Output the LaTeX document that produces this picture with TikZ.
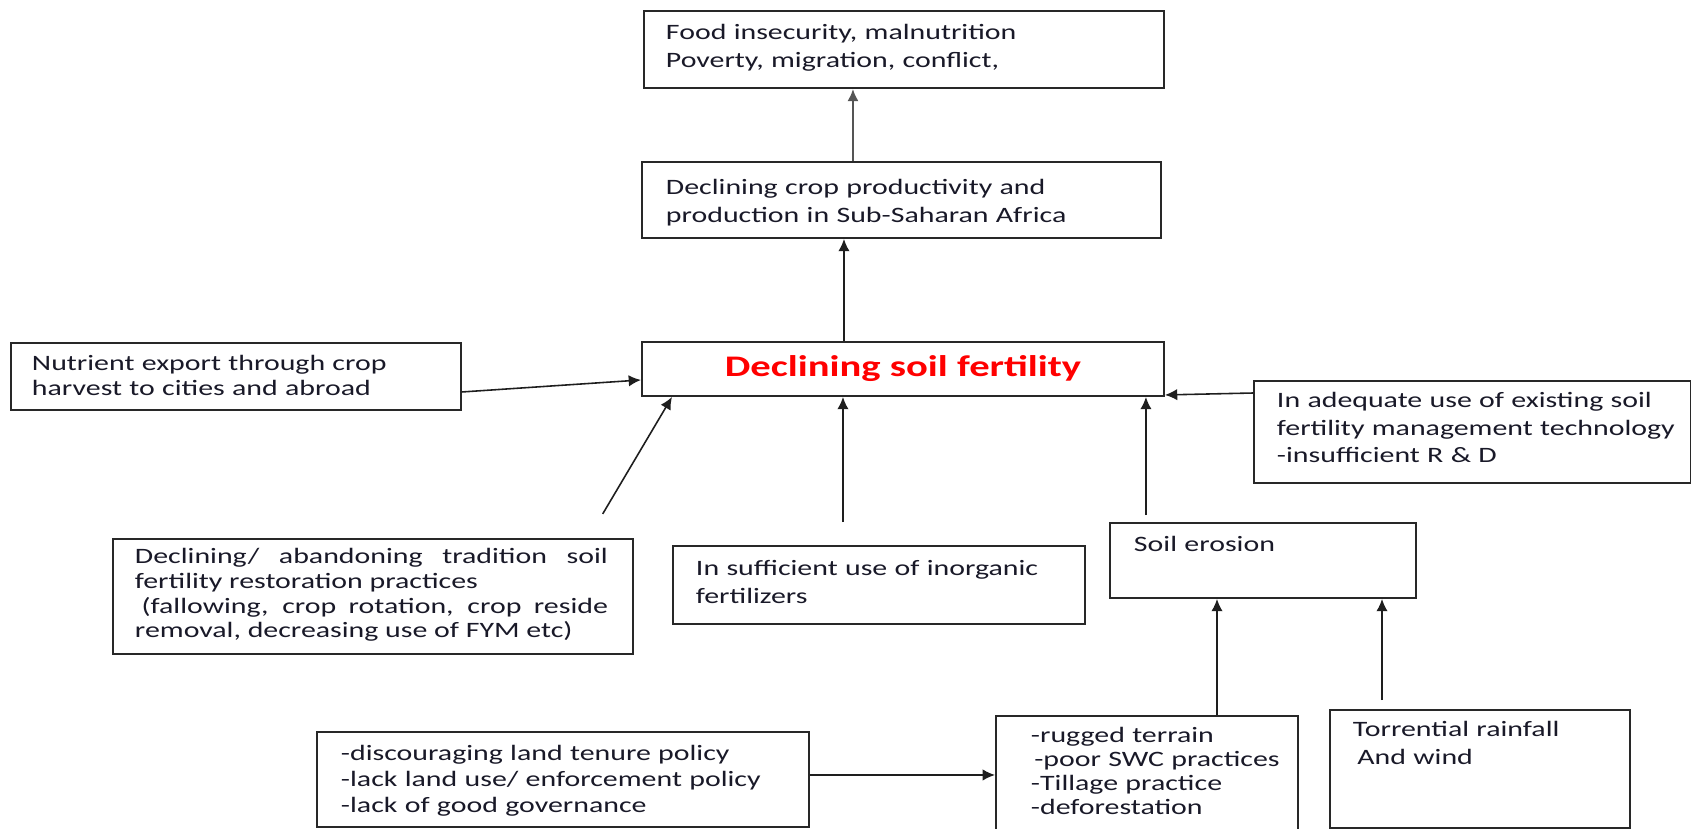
\documentclass[tikz,border=0pt]{standalone}
\usepackage{fontspec}
\setmainfont{Carlito}[FakeStretch=1.36]
\usepackage{tikz}
\usetikzlibrary{arrows.meta}
\definecolor{boxline}{RGB}{40, 40, 40}
\definecolor{arrowgray}{RGB}{30, 30, 30}
\definecolor{topgray}{RGB}{85, 85, 85}
\definecolor{titlered}{RGB}{255, 0, 0}
\definecolor{textdark}{RGB}{25, 25, 40}
\hyphenpenalty=10000
\exhyphenpenalty=10000

\begin{document}
\begin{tikzpicture}
    % Define styles
    \tikzstyle{cause} = [rectangle, draw=boxline, line width=1.1pt, anchor=north west, inner sep=0pt, align=left, text=textdark, font=\fontsize{12.5}{15.4}\selectfont]
    \tikzstyle{arrow} = [line width=0.9pt, -{Latex[length=7pt,width=6.5pt]}, color=arrowgray]
    \tikzset{pad/.style={execute at begin node={\leftskip=#1\relax}}}

    \useasboundingbox (0,0) rectangle (33.82,-16.56);

    % Nodes
    \node [cause, text width=10.40cm, text height=0.58cm, text depth=0.96cm, pad=0.44cm, font=\fontsize{12.5}{15.9}\selectfont] (impact) at (12.86,-0.20) {Food insecurity, malnutrition\\Poverty, migration, conflict,};
    \node [cause, text width=10.38cm, text height=0.66cm, text depth=0.86cm, pad=0.48cm] (crop) at (12.82,-3.22) {Declining crop productivity and\\production in Sub-Saharan Africa};
    \node [cause, minimum width=10.44cm, minimum height=1.08cm, align=center, text=titlered, font=\fontsize{17}{20}\selectfont\bfseries] (soil) at (12.82,-6.82) {Declining soil fertility};
    \node [cause, text width=9.00cm, text height=0.56cm, text depth=0.78cm, pad=0.42cm, font=\fontsize{12.5}{14}\selectfont] (export) at (0.20,-6.84) {Nutrient export through crop\\harvest to cities and abroad};
    \node [cause, text width=8.74cm, text height=0.54cm, text depth=1.50cm, pad=0.46cm, font=\fontsize{12.5}{15.6}\selectfont] (technology) at (25.06,-7.60) {In adequate use of existing soil\\fertility management technology\\-insufficient R \& D};
    \node [cause, text width=10.40cm, text height=0.50cm, text depth=1.80cm, align=justify, font=\fontsize{12.5}{14}\selectfont, execute at begin node={\leftskip=0.44cm \rightskip=0.50cm \tolerance=9999 \relax}] (tradition) at (2.24,-10.76) {Declining/ abandoning tradition soil\linebreak fertility restoration practices\\\hspace*{0.3em}(fallowing, crop rotation, crop reside\linebreak removal, decreasing use of FYM etc)};
    \node [cause, text width=8.24cm, text height=0.60cm, text depth=0.96cm, pad=0.46cm, font=\fontsize{12.5}{15.9}\selectfont] (inorganic) at (13.44,-10.90) {In sufficient use of inorganic\\fertilizers};
    \node [cause, text width=6.12cm, text height=0.58cm, text depth=0.92cm, pad=0.48cm] (erosion) at (22.18,-10.44) {Soil erosion};
    \node [cause, text width=9.84cm, text height=0.58cm, text depth=1.32cm, pad=0.48cm, font=\fontsize{12.5}{14.8}\selectfont] (policy) at (6.32,-14.62) {-discouraging land tenure policy\\-lack land use/ enforcement policy\\-lack of good governance};
    \node [cause, text width=6.04cm, text height=0.54cm, text depth=1.86cm, pad=0.70cm, font=\fontsize{12.5}{13.5}\selectfont] (terrain) at (19.90,-14.30) {-rugged terrain\\\hspace*{0.15em}-poor SWC practices\\-Tillage practice\\-deforestation};
    \node [cause, text width=6.00cm, text height=0.54cm, text depth=1.82cm, pad=0.46cm, font=\fontsize{12.5}{15.9}\selectfont] (rainfall) at (26.58,-14.18) {Torrential rainfall\\\hspace*{0.2em}And wind};

    % Attachment points
    \coordinate (up1) at ([xshift=-0.97cm]crop.north);
    \coordinate (up2) at ([xshift=-1.18cm]soil.north);
    \coordinate (in1) at ([xshift=-1.20cm]soil.south);
    \coordinate (in2) at ([xshift=-0.38cm]soil.south east);
    \coordinate (pol) at ([yshift=0.09cm]policy.east);
    \coordinate (ter) at ([xshift=4.44cm]terrain.north west);
    \coordinate (rain) at ([xshift=1.06cm]rainfall.north west);

    % Arrows
    \draw [arrow, line width=1.6pt, color=topgray] (up1) -- (up1 |- impact.south);
    \draw [arrow] (up2) -- (up2 |- crop.south);
    \draw [arrow] ([yshift=-0.31cm]export.east) -- ([yshift=-0.22cm]soil.west);
    \draw [arrow, shorten <=0.56cm] ([xshift=-0.91cm]tradition.north east) -- ([xshift=0.62cm]soil.south west);
    \draw [arrow, shorten <=0.46cm] (in1 |- inorganic.north) -- (in1);
    \draw [arrow, shorten <=0.14cm] (in2 |- erosion.north) -- (in2);
    \draw [arrow] ([yshift=-0.26cm]technology.north west) -- ([yshift=0.04cm]soil.south east);
    \draw [arrow] (pol) -- (pol -| terrain.west);
    \draw [arrow] (ter) -- (ter |- erosion.south);
    \draw [arrow, shorten <=0.18cm] (rain) -- (rain |- erosion.south);
\end{tikzpicture}
\end{document}
